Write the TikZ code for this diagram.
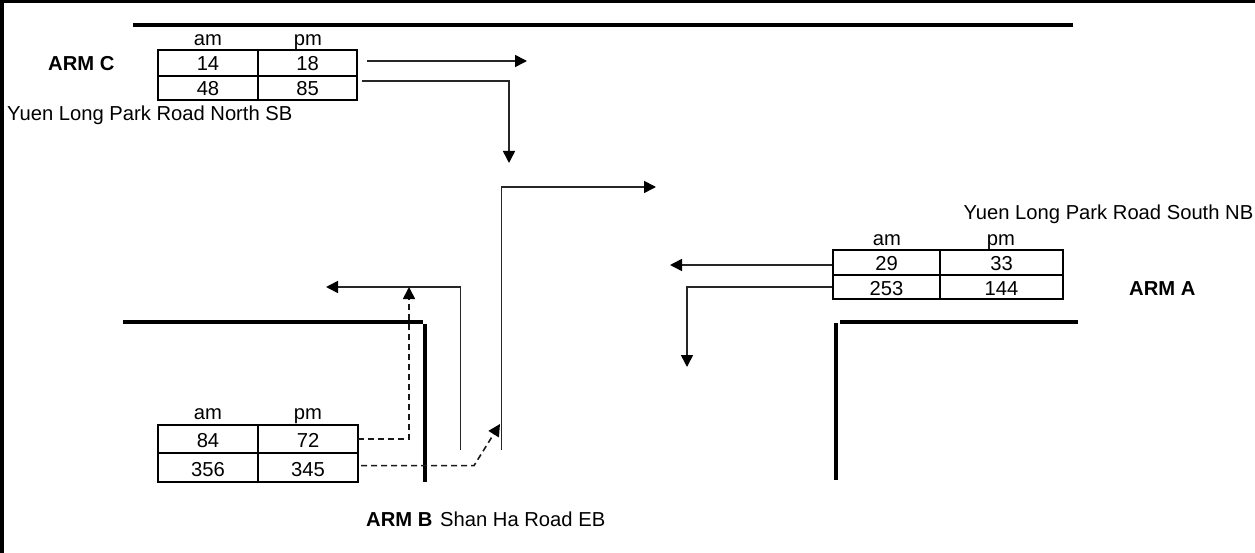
\documentclass[tikz,border=0pt]{standalone}
\usepackage{fontspec}
\setmainfont{Liberation Sans}
\usetikzlibrary{arrows.meta}
\tikzset{
  x=1pt,y=-1pt,
  wall/.style={line width=3.2pt,black},
  flow/.style={line width=1.6pt,black!85,line join=miter,-{Triangle[length=12pt,width=12pt,black]}},
  dashflow/.style={line width=1.6pt,black!90,dash pattern=on 6pt off 4pt,-{Triangle[length=12pt,width=12pt,black]}},
  cell/.style={draw=black,line width=2pt,inner sep=0pt,anchor=center,text depth=0pt,text height=15pt,font=\fontsize{20.2}{24}\selectfont},
  lbl/.style={inner sep=0pt,anchor=base,font=\fontsize{20.2}{24}\selectfont},
  arm/.style={inner sep=0pt,anchor=base,font=\fontsize{20.2}{24}\selectfont\bfseries},
}
\begin{document}
\begin{tikzpicture}
\useasboundingbox (0,0) rectangle (1255,553);
\fill[black] (0,0) rectangle (1255,3);
\fill[black] (0,0) rectangle (4,553);
% walls
\coordinate (wt1) at (133,25); \coordinate (wt2) at (1073,25);
\coordinate (wl1) at (123,322); \coordinate (wl2) at (423,322);
\coordinate (wl3) at (425,324); \coordinate (wl4) at (425,482);
\coordinate (wr1) at (840,322); \coordinate (wr2) at (1078,322);
\coordinate (wr3) at (836,323); \coordinate (wr4) at (836,480);
\draw[wall] (wt1) -- (wt2);
\draw[wall] (wl1) -- (wl2);
\draw[wall] (wl3) -- (wl4);
\draw[wall] (wr1) -- (wr2);
\draw[wall] (wr3) -- (wr4);
% table C
\node[cell,minimum width=100pt,minimum height=25.5pt] (c11) at (208,63.2) {14};
\node[cell,minimum width=99pt,minimum height=25.5pt] (c12) at (307.5,63.2) {18};
\node[cell,minimum width=100pt,minimum height=24.5pt] (c21) at (208,88.2) {48};
\node[cell,minimum width=99pt,minimum height=24.5pt] (c22) at (307.5,88.2) {85};
\node[lbl] (cam) at (208,46) {am};
\node[lbl] (cpm) at (308,46) {pm};
\node[arm,anchor=base west] (armc) at (48,70.5) {ARM C};
\node[lbl,anchor=base west] (roadc) at (7,120.5) {Yuen Long Park Road North SB};
% table B
\node[cell,text height=17pt,minimum width=100pt,minimum height=28pt] (b11) at (208,439) {84};
\node[cell,text height=17pt,minimum width=100pt,minimum height=28pt] (b12) at (308,439) {72};
\node[cell,text height=17pt,minimum width=100pt,minimum height=29pt] (b21) at (208,467.5) {356};
\node[cell,text height=17pt,minimum width=100pt,minimum height=29pt] (b22) at (308,467.5) {345};
\node[lbl] (bam) at (208,419) {am};
\node[lbl] (bpm) at (308,419) {pm};
\node[arm,anchor=base west] (armb) at (366,526) {ARM B};
\node[lbl,anchor=base west] (roadb) at (440,526) {Shan Ha Road EB};
% table A
\node[cell,text height=16pt,minimum width=107pt,minimum height=25pt] (a11) at (886.5,262.5) {29};
\node[cell,text height=16pt,minimum width=123pt,minimum height=25pt] (a12) at (1001.5,262.5) {33};
\node[cell,text height=16pt,minimum width=107pt,minimum height=24.5pt] (a21) at (886.5,287.2) {253};
\node[cell,text height=16pt,minimum width=123pt,minimum height=24.5pt] (a22) at (1001.5,287.2) {144};
\node[lbl] (aam) at (887,246) {am};
\node[lbl] (apm) at (1001,246) {pm};
\node[arm,anchor=base west] (arma) at (1129,295.5) {ARM A};
\node[lbl,anchor=base east] (roada) at (1253.5,220) {Yuen Long Park Road South NB};
% flows C
\coordinate (f1s) at (367,61); \coordinate (f1e) at (527,61);
\draw[flow] (f1s) -- (f1e);
\coordinate (f2s) at (362,81); \coordinate (f2b) at (509,81); \coordinate (f2e) at (509,163);
\draw[flow] (f2s) -- (f2b) -- (f2e);
% flows B
\coordinate (f3s) at (501.5,450); \coordinate (f3b) at (501.5,187); \coordinate (f3e) at (656,187);
\draw[flow] (f3s) -- (f3b) -- (f3e);
\coordinate (f4s) at (460.5,450); \coordinate (f4b) at (460.5,287); \coordinate (f4e) at (326,287);
\draw[flow] (f4s) -- (f4b) -- (f4e);
\coordinate (d1s) at (358,439); \coordinate (d1b) at (409,439); \coordinate (d1e) at (409,287);
\draw[dashflow] (d1s) -- (d1b) -- (d1e);
\coordinate (d2s) at (361,465.6); \coordinate (d2b) at (474,465.6); \coordinate (d2e) at (500,424);
\draw[dashflow] (d2s) -- (d2b) -- (d2e);
% flows A
\coordinate (f5s) at (832,265); \coordinate (f5e) at (670,265);
\draw[flow] (f5s) -- (f5e);
\coordinate (f6s) at (832,287); \coordinate (f6b) at (687,287); \coordinate (f6e) at (687,367);
\draw[flow] (f6s) -- (f6b) -- (f6e);
\end{tikzpicture}
\end{document}
